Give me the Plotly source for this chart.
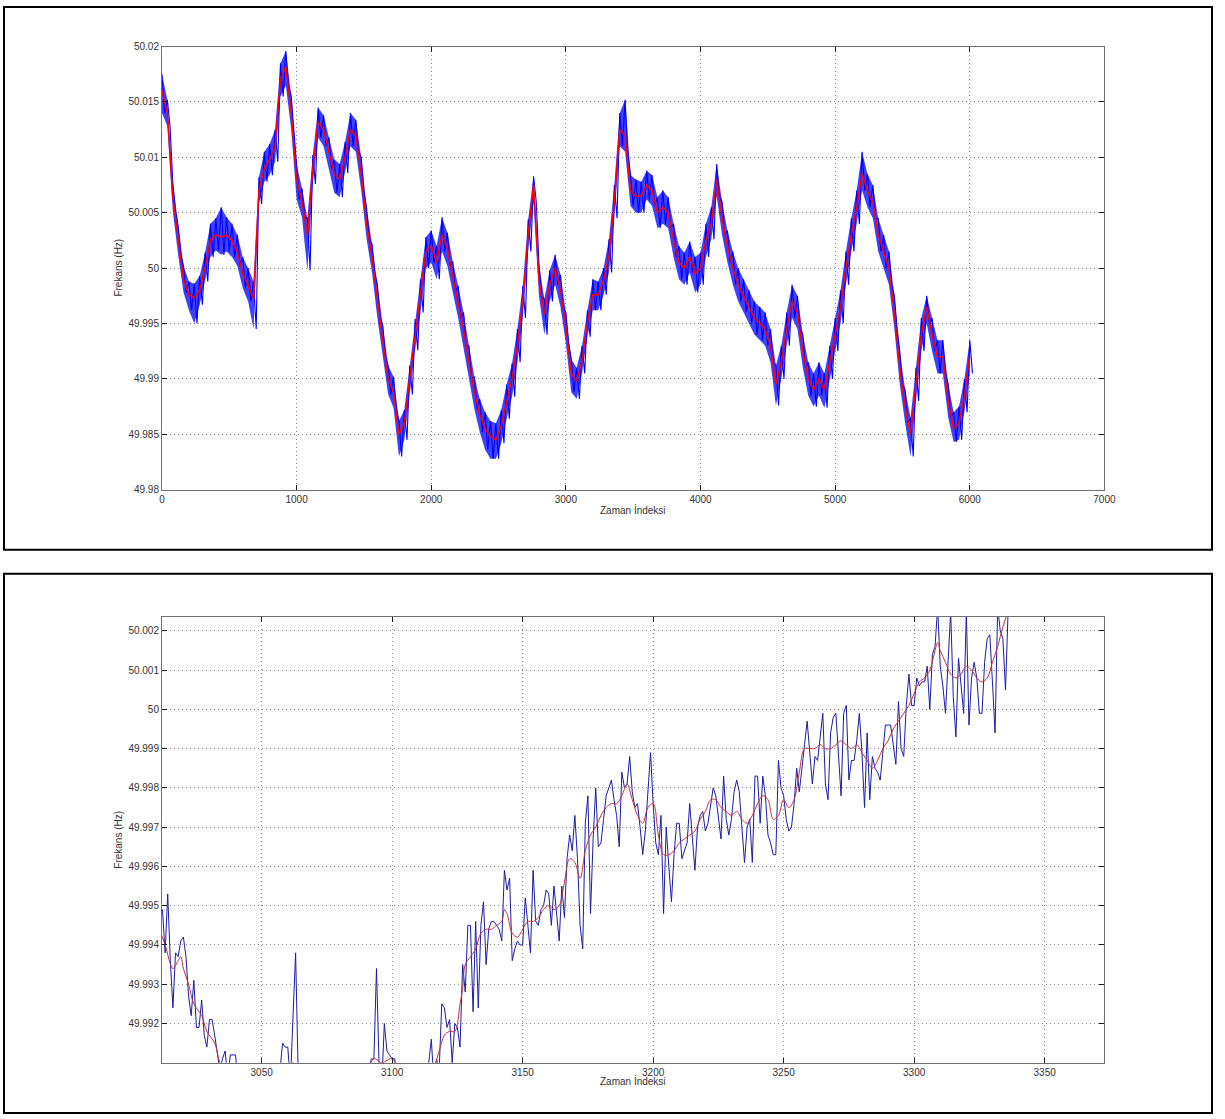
import plotly.graph_objects as go

W, H = 1225, 1119

# ---------------- top panel data (sample index step 40) ----------------
top_step = 40
top_trend = [
    50.0160, 50.0140, 50.0065, 50.0025, 49.9990, 49.9976, 49.9973, 49.9980, 50.0000, 50.0025,
    50.0030, 50.0028, 50.0030, 50.0025, 50.0015, 49.9995, 49.9985, 49.9972, 50.0070, 50.0090,
    50.0098, 50.0110, 50.0170, 50.0182, 50.0140, 50.0080, 50.0060, 50.0030, 50.0090, 50.0132,
    50.0125, 50.0105, 50.0085, 50.0080, 50.0100, 50.0125, 50.0120, 50.0085, 50.0040, 50.0010,
    49.9970, 49.9935, 49.9900, 49.9888, 49.9850, 49.9860, 49.9900, 49.9940, 49.9975, 50.0015,
    50.0020, 50.0005, 50.0030, 50.0018, 49.9992, 49.9970, 49.9945, 49.9915, 49.9888, 49.9868,
    49.9855, 49.9848, 49.9845, 49.9858, 49.9880, 49.9900, 49.9930, 49.9970, 50.0030, 50.0075,
    49.9990, 49.9958, 49.9985, 50.0000, 49.9980, 49.9948, 49.9905, 49.9898, 49.9917, 49.9950,
    49.9976, 49.9976, 49.9989, 50.0011, 50.0060, 50.0125, 50.0120, 50.0070, 50.0065, 50.0065,
    50.0075, 50.0070, 50.0050, 50.0055, 50.0050, 50.0025, 50.0005, 50.0000, 50.0010, 49.9995,
    50.0000, 50.0025, 50.0040, 50.0080, 50.0045, 50.0020, 50.0000, 49.9985, 49.9975, 49.9965,
    49.9955, 49.9950, 49.9945, 49.9930, 49.9895, 49.9915, 49.9945, 49.9970, 49.9960, 49.9925,
    49.9900, 49.9890, 49.9900, 49.9890, 49.9915, 49.9940, 49.9965, 50.0000, 50.0030, 50.0055,
    50.0085, 50.0070, 50.0060, 50.0030, 50.0015, 50.0000, 49.9960, 49.9910, 49.9875, 49.9850,
    49.9895, 49.9940, 49.9965, 49.9940, 49.9920, 49.9920, 49.9880, 49.9855, 49.9860, 49.9885,
    49.9920,
]
top_hi = [
    50.0175, 50.0152, 50.0078, 50.0038, 50.0002, 49.9988, 49.9986, 49.9993, 50.0014, 50.0040,
    50.0045, 50.0055, 50.0046, 50.0040, 50.0030, 50.0010, 50.0000, 49.9988, 50.0082, 50.0105,
    50.0112, 50.0125, 50.0185, 50.0196, 50.0155, 50.0094, 50.0072, 50.0045, 50.0102, 50.0145,
    50.0138, 50.0118, 50.0098, 50.0094, 50.0114, 50.0140, 50.0134, 50.0100, 50.0054, 50.0022,
    49.9985, 49.9948, 49.9912, 49.9902, 49.9862, 49.9872, 49.9912, 49.9954, 49.9990, 50.0028,
    50.0034, 50.0020, 50.0046, 50.0032, 50.0006, 49.9984, 49.9960, 49.9930, 49.9902, 49.9882,
    49.9870, 49.9862, 49.9860, 49.9872, 49.9895, 49.9914, 49.9945, 49.9984, 50.0044, 50.0083,
    50.0004, 49.9972, 49.9998, 50.0012, 49.9994, 49.9960, 49.9918, 49.9910, 49.9930, 49.9962,
    49.9990, 49.9988, 50.0000, 50.0026, 50.0075, 50.0140, 50.0152, 50.0084, 50.0080, 50.0078,
    50.0088, 50.0084, 50.0064, 50.0070, 50.0064, 50.0040, 50.0020, 50.0014, 50.0024, 50.0010,
    50.0014, 50.0040, 50.0055, 50.0094, 50.0060, 50.0034, 50.0015, 50.0000, 49.9990, 49.9980,
    49.9970, 49.9965, 49.9960, 49.9945, 49.9912, 49.9930, 49.9960, 49.9985, 49.9975, 49.9940,
    49.9915, 49.9905, 49.9915, 49.9905, 49.9930, 49.9955, 49.9980, 50.0015, 50.0045, 50.0070,
    50.0105, 50.0085, 50.0075, 50.0045, 50.0030, 50.0015, 49.9975, 49.9925, 49.9890, 49.9865,
    49.9910, 49.9955, 49.9975, 49.9955, 49.9935, 49.9935, 49.9895, 49.9870, 49.9875, 49.9900,
    49.9935,
]
top_lo = [
    50.0140, 50.0128, 50.0052, 50.0012, 49.9978, 49.9962, 49.9950, 49.9967, 49.9988, 50.0010,
    50.0016, 50.0012, 50.0015, 50.0010, 50.0002, 49.9982, 49.9970, 49.9945, 50.0058, 50.0078,
    50.0084, 50.0096, 50.0155, 50.0165, 50.0125, 50.0062, 50.0046, 49.9998, 50.0076, 50.0118,
    50.0110, 50.0090, 50.0068, 50.0064, 50.0086, 50.0110, 50.0105, 50.0070, 50.0026, 49.9996,
    49.9955, 49.9920, 49.9886, 49.9874, 49.9830, 49.9845, 49.9886, 49.9926, 49.9960, 50.0000,
    50.0005, 49.9990, 50.0015, 50.0002, 49.9978, 49.9955, 49.9930, 49.9900, 49.9873, 49.9852,
    49.9836, 49.9828, 49.9828, 49.9842, 49.9864, 49.9884, 49.9915, 49.9955, 50.0015, 50.0060,
    49.9975, 49.9940, 49.9970, 49.9985, 49.9965, 49.9932, 49.9888, 49.9882, 49.9905, 49.9938,
    49.9962, 49.9962, 49.9976, 49.9996, 50.0045, 50.0110, 50.0105, 50.0056, 50.0050, 50.0050,
    50.0062, 50.0056, 50.0036, 50.0040, 50.0036, 50.0010, 49.9990, 49.9985, 49.9996, 49.9978,
    49.9985, 50.0010, 50.0026, 50.0065, 50.0030, 50.0005, 49.9985, 49.9970, 49.9960, 49.9950,
    49.9940, 49.9935, 49.9930, 49.9915, 49.9876, 49.9900, 49.9930, 49.9955, 49.9945, 49.9910,
    49.9885, 49.9875, 49.9885, 49.9874, 49.9900, 49.9925, 49.9950, 49.9985, 50.0015, 50.0040,
    50.0070, 50.0055, 50.0045, 50.0015, 50.0000, 49.9985, 49.9945, 49.9895, 49.9860, 49.9830,
    49.9880, 49.9925, 49.9950, 49.9925, 49.9905, 49.9905, 49.9865, 49.9843, 49.9845, 49.9870,
    49.9905,
]

# ---------------- bottom panel data (every sample from 3010) ----------------
bot_start = 3010
bot_blue = [
    49.9949, 49.9946, 49.9949, 49.9938, 49.9953, 49.9936, 49.9924, 49.9938, 49.9937, 49.9941,  # 3010
    49.9942, 49.9937, 49.9927, 49.9922, 49.9931, 49.9919, 49.9919, 49.9926, 49.9917, 49.9914,  # 3020
    49.9921, 49.9921, 49.9917, 49.9913, 49.9908, 49.9911, 49.9913, 49.9906, 49.9912, 49.9912,  # 3030
    49.9912, 49.9904, 49.9900, 49.9897, 49.9902, 49.9895, 49.9899, 49.9893, 49.9897, 49.9902,  # 3040
    49.9899, 49.9894, 49.9898, 49.9903, 49.9899, 49.9905, 49.9901, 49.9909, 49.9915, 49.9914,  # 3050
    49.9914, 49.9905, 49.9922, 49.9938, 49.9907, 49.9896, 49.9901, 49.9894, 49.9890, 49.9897,  # 3060
    49.9889, 49.9893, 49.9899, 49.9891, 49.9896, 49.9902, 49.9894, 49.9898, 49.9903, 49.9897,  # 3070
    49.9893, 49.9899, 49.9905, 49.9898, 49.9902, 49.9896, 49.9903, 49.9907, 49.9900, 49.9905,  # 3080
    49.9902, 49.9908, 49.9911, 49.9911, 49.9934, 49.9909, 49.9904, 49.9920, 49.9913, 49.9912,  # 3090
    49.9911, 49.9911, 49.9904, 49.9899, 49.9903, 49.9897, 49.9901, 49.9905, 49.9898, 49.9903,  # 3100
    49.9906, 49.9900, 49.9904, 49.9908, 49.9910, 49.9916, 49.9905, 49.9911, 49.9908, 49.9925,  # 3110
    49.9924, 49.9919, 49.9921, 49.9910, 49.9920, 49.9919, 49.9914, 49.9935, 49.9928, 49.9945,  # 3120
    49.9945, 49.9923, 49.9946, 49.9924, 49.9945, 49.9951, 49.9935, 49.9944, 49.9946, 49.9946,  # 3130
    49.9945, 49.9944, 49.9941, 49.9959, 49.9954, 49.9957, 49.9936, 49.9939, 49.9941, 49.9940,  # 3140
    49.9940, 49.9952, 49.9945, 49.9938, 49.9959, 49.9946, 49.9945, 49.9949, 49.9950, 49.9954,  # 3150
    49.9953, 49.9945, 49.9955, 49.9948, 49.9941, 49.9955, 49.9947, 49.9962, 49.9968, 49.9964,  # 3160
    49.9973, 49.9962, 49.9945, 49.9939, 49.9971, 49.9978, 49.9948, 49.9967, 49.9980, 49.9965,  # 3170
    49.9966, 49.9972, 49.9978, 49.9980, 49.9982, 49.9977, 49.9973, 49.9965, 49.9984, 49.9980,  # 3180
    49.9981, 49.9988, 49.9979, 49.9975, 49.9976, 49.9970, 49.9963, 49.9969, 49.9980, 49.9989,  # 3190
    49.9976, 49.9966, 49.9963, 49.9973, 49.9948, 49.9970, 49.9960, 49.9951, 49.9963, 49.9971,  # 3200
    49.9971, 49.9962, 49.9964, 49.9966, 49.9976, 49.9968, 49.9959, 49.9970, 49.9973, 49.9974,  # 3210
    49.9969, 49.9971, 49.9975, 49.9980, 49.9978, 49.9973, 49.9967, 49.9983, 49.9972, 49.9968,  # 3220
    49.9972, 49.9979, 49.9982, 49.9979, 49.9971, 49.9961, 49.9970, 49.9972, 49.9961, 49.9983,  # 3230
    49.9983, 49.9971, 49.9983, 49.9978, 49.9968, 49.9966, 49.9963, 49.9963, 49.9987, 49.9980,  # 3240
    49.9978, 49.9972, 49.9969, 49.9970, 49.9976, 49.9985, 49.9979, 49.9986, 49.9991, 49.9997,  # 3250
    49.9990, 49.9981, 49.9988, 49.9987, 49.9993, 49.9999, 49.9981, 49.9977, 49.9994, 49.9998,  # 3260
    49.9999, 49.9989, 49.9978, 49.9999, 50.0001, 49.9982, 49.9987, 49.9987, 49.9992, 49.9999,  # 3270
    49.9989, 49.9975, 49.9994, 49.9977, 49.9988, 49.9985, 49.9984, 49.9982, 49.9990, 49.9996,  # 3280
    49.9996, 49.9996, 49.9991, 49.9986, 50.0002, 49.9990, 49.9988, 50.0001, 50.0009, 50.0001,  # 3290
    50.0001, 50.0008, 50.0006, 50.0007, 50.0007, 50.0011, 50.0000, 50.0014, 50.0016, 50.0026,  # 3300
    50.0011, 50.0006, 49.9999, 50.0011, 50.0025, 50.0003, 49.9993, 50.0013, 50.0006, 49.9999,  # 3310
    50.0025, 49.9996, 50.0008, 50.0012, 50.0008, 49.9999, 49.9999, 50.0012, 50.0018, 50.0019,  # 3320
    50.0007, 49.9994, 50.0026, 50.0020, 50.0018, 50.0005, 50.0025,                             # 3330
]
bot_red_idx = [
    3010, 3013, 3016, 3018, 3019, 3020, 3022, 3024, 3027, 3029, 3032, 3034, 3038, 3045, 3052,
    3058, 3062, 3066, 3072, 3080, 3088, 3093, 3096, 3100, 3104, 3110, 3116, 3118, 3120, 3122,
    3124, 3126, 3127, 3128, 3130, 3132, 3134, 3136, 3138, 3140, 3142, 3143, 3144, 3146, 3148,
    3150, 3152, 3154, 3156, 3158, 3160, 3162, 3164, 3166, 3168, 3170, 3172, 3174, 3176, 3178,
    3180, 3182, 3184, 3186, 3188, 3190, 3192, 3194, 3196, 3198, 3200, 3202, 3204, 3206, 3208,
    3210, 3212, 3214, 3216, 3218, 3220, 3222, 3224, 3226, 3228, 3230, 3232, 3234, 3236, 3238,
    3240, 3242, 3244, 3246, 3248, 3250, 3252, 3254, 3256, 3258, 3260, 3262, 3264, 3266, 3268,
    3270, 3272, 3274, 3276, 3278, 3280, 3282, 3284, 3286, 3288, 3290, 3292, 3294, 3296, 3298,
    3300, 3302, 3304, 3306, 3308, 3309, 3310, 3312, 3314, 3316, 3318, 3320, 3322, 3324, 3326,
    3328, 3330, 3332, 3334, 3336,
]
bot_red_val = [
    49.99455, 49.9940, 49.9934, 49.9936, 49.9937, 49.9934, 49.9930, 49.9925, 49.9922, 49.9918,
    49.9915, 49.9910, 49.9905, 49.9900, 49.9900, 49.9906, 49.9910, 49.9904, 49.9898, 49.9898,
    49.9904, 49.9911, 49.9910, 49.9911, 49.9905, 49.9903, 49.9909, 49.9913, 49.9917, 49.9918,
    49.9918, 49.9925, 49.9929, 49.9935, 49.9937, 49.9939, 49.9943, 49.9944, 49.9944, 49.9945,
    49.9946, 49.9949, 49.9948, 49.9943, 49.9942, 49.9944, 49.9946, 49.9946, 49.9947, 49.9949,
    49.9950, 49.9949, 49.9950, 49.9956, 49.9962, 49.9961, 49.9957, 49.9964, 49.9968, 49.9970,
    49.9973, 49.9975, 49.9976, 49.9976, 49.9978, 49.9981, 49.9977, 49.9973, 49.9971, 49.9975,
    49.9976, 49.9968, 49.9963, 49.9963, 49.9964, 49.9966, 49.9967, 49.9968, 49.9969, 49.9972,
    49.9974, 49.9977, 49.9977, 49.9975, 49.9974, 49.9973, 49.9974, 49.9972, 49.9971, 49.9973,
    49.9976, 49.9978, 49.9977, 49.9972, 49.9973, 49.9977, 49.9975, 49.9977, 49.9984, 49.9990,
    49.9990, 49.9990, 49.9991, 49.9990, 49.9990, 49.9991, 49.9992, 49.9991, 49.9990, 49.9991,
    49.9989, 49.9987, 49.9985, 49.9987, 49.9990, 49.9992, 49.9995, 49.9997, 49.9999, 50.0001,
    50.0004, 50.0007, 50.0008, 50.0010, 50.0015, 50.0017, 50.0015, 50.0012, 50.0009, 50.0008,
    50.0009, 50.0011, 50.0010, 50.0008, 50.0007, 50.0008, 50.0012, 50.0016, 50.0021, 50.0025,
]

# ---------------- axes ticks / texts ----------------
top_xticks = [0, 1000, 2000, 3000, 4000, 5000, 6000, 7000]
top_yticks = [49.98, 49.985, 49.99, 49.995, 50.0, 50.005, 50.01, 50.015, 50.02]
top_ytext = ["49.98", "49.985", "49.99", "49.995", "50", "50.005", "50.01", "50.015", "50.02"]
bot_xticks = [3050, 3100, 3150, 3200, 3250, 3300, 3350]
bot_yticks = [49.992, 49.993, 49.994, 49.995, 49.996, 49.997, 49.998, 49.999, 50.0, 50.001, 50.002]
bot_ytext = ["49.992", "49.993", "49.994", "49.995", "49.996", "49.997", "49.998", "49.999",
             "50", "50.001", "50.002"]
y_title = "Frekans (Hz)"
x_title = "Zaman İndeksi"

# ---------------- layout helpers ----------------
# the captured picture maps page pixel p to about A + S*p; invert it so that
# elements land at the wanted picture positions
AX, SX = 3.1, 0.9873
AY, SY = 4.4, 0.990


def fx(t):
    p = (t - AX) / SX
    return min(max(p, 1), W - 1) / W


def fy(t):
    p = (t - AY) / SY
    return 1 - min(max(p, 1), H - 1) / H


top_idx = [i * top_step for i in range(len(top_trend))]
bot_idx = [bot_start + i for i in range(len(bot_blue))]

# noisy blue trace of the top panel: alternate between read upper and lower envelope
zig_x, zig_y = [], []
for i, x in enumerate(top_idx):
    zig_x += [x, x + top_step / 2]
    zig_y += [top_hi[i], top_lo[i]]

fig = go.Figure()

fig.add_trace(go.Scatter(
    x=top_idx + top_idx[::-1], y=top_hi + top_lo[::-1],
    fill="toself", fillcolor="rgba(10,10,255,0.78)", line=dict(width=0),
    mode="lines", hoverinfo="skip", showlegend=False, xaxis="x", yaxis="y"))
fig.add_trace(go.Scatter(
    x=zig_x, y=zig_y, mode="lines", line=dict(color="#0000ff", width=1.1),
    showlegend=False, xaxis="x", yaxis="y"))
fig.add_trace(go.Scatter(
    x=top_idx, y=top_trend, mode="lines", line=dict(color="#ff0000", width=1.5),
    showlegend=False, xaxis="x", yaxis="y"))

fig.add_trace(go.Scatter(
    x=bot_idx, y=bot_blue, mode="lines", line=dict(color="#1c1ca8", width=1),
    showlegend=False, xaxis="x2", yaxis="y2"))
fig.add_trace(go.Scatter(
    x=bot_red_idx, y=bot_red_val, mode="lines", line=dict(color="#c8303c", width=1),
    line_shape="spline", showlegend=False, xaxis="x2", yaxis="y2"))

FONT = "Liberation Sans, Arial, sans-serif"
axis_common = dict(
    showline=True, linecolor="#707070", linewidth=1, mirror="ticks",
    ticks="inside", ticklen=5, tickcolor="#1a1a1a", tickwidth=1,
    showgrid=True, gridcolor="#8c8c8c", griddash="1px,3px", gridwidth=1,
    zeroline=False, tickfont=dict(family=FONT, size=10, color="#333333"),
    fixedrange=True,
)

dom_x = [fx(162), fx(1104)]
fig.update_layout(
    width=W, height=H, autosize=False,
    margin=dict(l=0, r=0, t=0, b=0),
    paper_bgcolor="white", plot_bgcolor="white",
    xaxis=dict(domain=dom_x, range=[0, 7000], tickvals=top_xticks, anchor="y", **axis_common),
    yaxis=dict(domain=[fy(488), fy(45)], range=[49.98, 50.02], tickvals=top_yticks,
               ticktext=top_ytext, anchor="x", **axis_common),
    xaxis2=dict(domain=dom_x, range=[3011.8, 3372.9], tickvals=bot_xticks, anchor="y2", **axis_common),
    yaxis2=dict(domain=[fy(1061), fy(615)], range=[49.991, 50.00236], tickvals=bot_yticks,
                ticktext=bot_ytext, anchor="x2", **axis_common),
)

# frames around each panel
for (t, b) in [(3, 548), (572, 1117)]:
    fig.add_shape(type="rect", xref="paper", yref="paper",
                  x0=fx(3), x1=fx(1220), y0=fy(b), y1=fy(t),
                  line=dict(color="black", width=2), fillcolor="rgba(0,0,0,0)")

# axis titles
for (yc, xt) in [(266, 508), (838, 1079)]:
    fig.add_annotation(text=y_title, xref="paper", yref="paper", x=fx(119), y=fy(yc),
                       textangle=-90, showarrow=False, xanchor="center", yanchor="middle",
                       font=dict(family=FONT, size=10, color="#333333"))
    fig.add_annotation(text=x_title, xref="paper", yref="paper", x=fx(633), y=fy(xt),
                       showarrow=False, xanchor="center", yanchor="middle",
                       font=dict(family=FONT, size=10, color="#333333"))

fig.write_html("out.html", config={"displayModeBar": False},
               post_script="document.body.style.margin='0';document.body.style.overflow='hidden';")
